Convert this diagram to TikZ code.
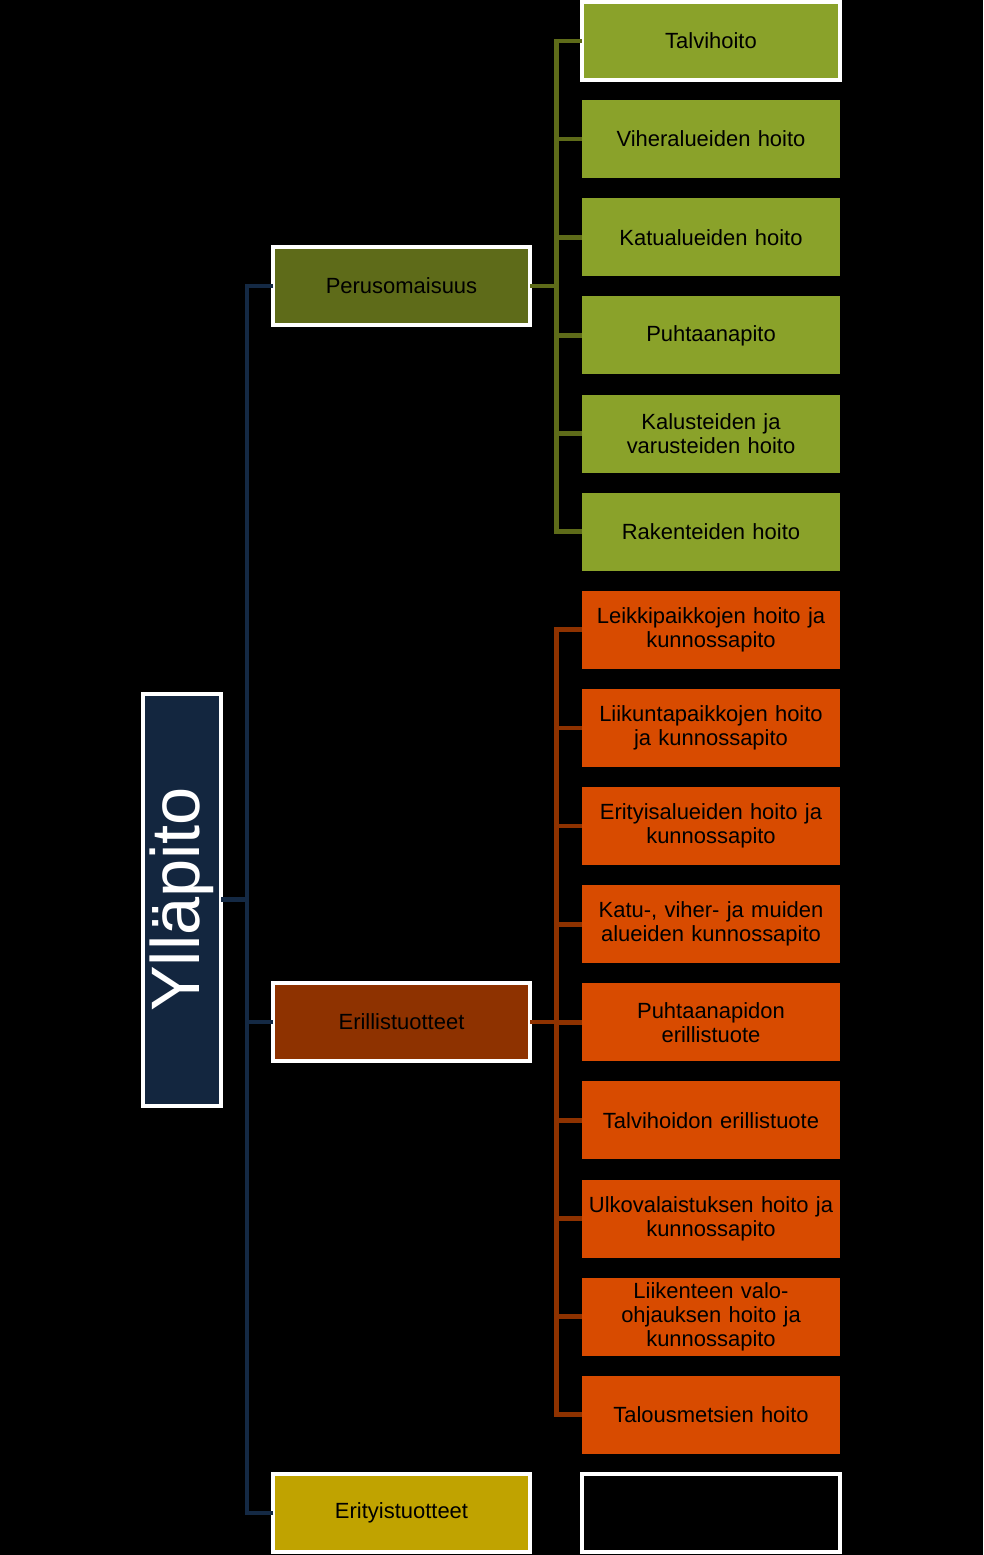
\documentclass[tikz,border=0pt]{standalone}
\usepackage{fontspec}
\setmainfont{Liberation Sans}
\usepackage{graphicx}
\usetikzlibrary{positioning}

\definecolor{navy}{HTML}{13263F}
\definecolor{navyline}{HTML}{142944}
\definecolor{olive}{HTML}{5E6B19}
\definecolor{leafgreen}{HTML}{8AA22A}
\definecolor{rust}{HTML}{8E3200}
\definecolor{leaforange}{HTML}{D84B00}
\definecolor{gold}{HTML}{C0A300}

\begin{document}
\begin{tikzpicture}[node distance=0.4026cm,
    box/.style={rectangle, outer sep=0pt, inner sep=1pt, align=center,
      font=\fontsize{12.5}{13.6}\selectfont, text=black},
    framed/.style={draw=white, line width=0.08cm},
    mid/.style={box, framed, minimum width=5.14cm, minimum height=1.56cm},
    leaf/.style={box, minimum width=5.16cm, minimum height=1.56cm, text width=5.1cm},
    trunk/.style={draw=navyline, line width=0.095cm},
    twig/.style={line width=0.095cm}]
  \fill[black] (0,0) rectangle (19.66,-31.1);
  \useasboundingbox (0,0) rectangle (19.66,-31.1);

  % root
  \node[box, framed, fill=navy, minimum width=1.56cm, minimum height=8.24cm]
        (root) at (3.64,-17.99)
        {\rotatebox{90}{\fontsize{39}{40}\selectfont\color{white}Ylläpito}};

  % second level
  \node[mid, fill=olive]  (peru)  at (8.03,-5.72)  {Perusomaisuus};
  \node[mid, fill=rust]   (erill) at (8.03,-20.44) {Erillistuotteet};
  \node[mid, fill=gold]   (erit)  at (8.03,-30.26) {Erityistuotteet};

  % leaves
  \node[leaf, framed, fill=leafgreen] (t1) at (14.22,-0.82) {Talvihoito};
  \node[leaf, fill=leafgreen] (t2) [below=of t1] {Viheralueiden hoito};
  \node[leaf, fill=leafgreen] (t3) [below=of t2] {Katualueiden hoito};
  \node[leaf, fill=leafgreen] (t4) [below=of t3] {Puhtaanapito};
  \node[leaf, fill=leafgreen] (t5) [below=of t4] {Kalusteiden ja\\varusteiden hoito};
  \node[leaf, fill=leafgreen] (t6) [below=of t5] {Rakenteiden hoito};

  \node[leaf, fill=leaforange] (o1) [below=of t6] {Leikkipaikkojen hoito ja\\kunnossapito};
  \node[leaf, fill=leaforange] (o2) [below=of o1] {Liikuntapaikkojen hoito\\ja kunnossapito};
  \node[leaf, fill=leaforange] (o3) [below=of o2] {Erityisalueiden hoito ja\\kunnossapito};
  \node[leaf, fill=leaforange] (o4) [below=of o3] {Katu-, viher- ja muiden\\alueiden kunnossapito};
  \node[leaf, fill=leaforange] (o5) [below=of o4] {Puhtaanapidon\\erillistuote};
  \node[leaf, fill=leaforange] (o6) [below=of o5] {Talvihoidon erillistuote};
  \node[leaf, fill=leaforange] (o7) [below=of o6] {Ulkovalaistuksen hoito ja\\kunnossapito};
  \node[leaf, fill=leaforange] (o8) [below=of o7] {Liikenteen valo-\\ohjauksen hoito ja\\kunnossapito};
  \node[leaf, fill=leaforange] (o9) [below=of o8] {Talousmetsien hoito};

  \node[leaf, framed, fill=black] (blank) [below=of o9] {};

  % connectors
  \coordinate (bus)  at (4.94,0);
  \coordinate (gbus) at (11.13,0);

  \draw[trunk] (root.east) -- (root.east -| bus);
  \draw[trunk, line cap=rect] (peru.west -| bus) -- (erit.west -| bus);
  \foreach \n in {peru,erill,erit}
    \draw[trunk] (\n.west) -- (\n.west -| bus);

  \draw[twig, draw=olive] (peru.east) -- (peru.east -| gbus);
  \draw[twig, draw=olive, line cap=rect] (t1.west -| gbus) -- (t6.west -| gbus);
  \foreach \n in {t1,t2,t3,t4,t5,t6}
    \draw[twig, draw=olive] (\n.west -| gbus) -- (\n.west);

  \draw[twig, draw=rust] (erill.east) -- (erill.east -| gbus);
  \draw[twig, draw=rust, line cap=rect] (o1.west -| gbus) -- (o9.west -| gbus);
  \foreach \n in {o1,o2,o3,o4,o5,o6,o7,o8,o9}
    \draw[twig, draw=rust] (\n.west -| gbus) -- (\n.west);
\end{tikzpicture}
\end{document}
